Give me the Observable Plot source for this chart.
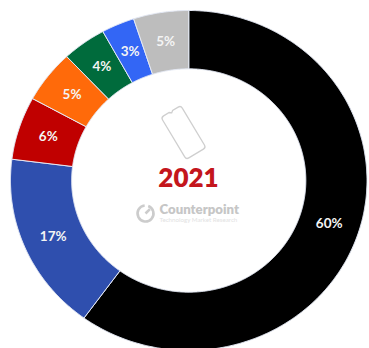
<!DOCTYPE html>
<html>
<head>
<meta charset="utf-8">
<style>
  html, body { margin: 0; padding: 0; background: #fff; }
  svg { display: block; }
</style>
<script src="https://cdn.jsdelivr.net/npm/d3@7"></script>
<script src="https://cdn.jsdelivr.net/npm/@observablehq/plot@0.6"></script>
</head>
<body>
<div id="chart"></div>
<script>
// Market share by slice, clockwise from twelve o'clock
const slices = ["a", "b", "c", "d", "e", "f", "g"];
const shares = [60, 17, 6, 5, 4, 3, 5];
const colors = ["#000000", "#2f4fae", "#c00000", "#ff6a0a", "#006b3c", "#3366f5", "#bdbdbd"];
const year = ["2021"];
const brand = ["Counterpoint"];
const tagline = ["Technology Market Research"];

const innerRatio = 0.657;
const total = d3.sum(shares);
const cumulative = d3.cumsum(shares);

const polar = (share, r) => {
  const a = (share / total) * 2 * Math.PI;
  return [r * Math.sin(a), r * Math.cos(a)];
};

// Each ring segment becomes a closed outline: outer edge forward, inner edge back
const outline = slices.flatMap((slice, i) => {
  const end = cumulative[i];
  const start = end - shares[i];
  const forward = d3.range(start, end, 0.1).concat(end);
  const pts = [
    ...forward.map((s) => polar(s, 1)),
    ...forward.slice().reverse().map((s) => polar(s, innerRatio))
  ];
  pts.push(pts[0]);
  return pts.map(([x, y]) => ({ slice, x, y }));
});

const labels = slices.map((slice, i) => {
  const [x, y] = polar(cumulative[i] - shares[i] / 2, (1 + innerRatio) / 2);
  return { x, y, text: `${shares[i]}%` };
});

// Handset outline as a custom dot symbol: rounded body with a small notch
const handset = {
  draw(ctx, size) {
    const k = Math.sqrt(size) / 50;
    const w = 11.5 * k, h = 24.5 * k, r = 3 * k, n = 2 * k;
    ctx.moveTo(-w + r, -h);
    ctx.lineTo(-n, -h);
    ctx.lineTo(0, -h + n * 0.8);
    ctx.lineTo(n, -h);
    ctx.lineTo(w - r, -h);
    ctx.arcTo(w, -h, w, -h + r, r);
    ctx.lineTo(w, h - r);
    ctx.arcTo(w, h, w - r, h, r);
    ctx.lineTo(-w + r, h);
    ctx.arcTo(-w, h, -w, h - r, r);
    ctx.lineTo(-w, -h + r);
    ctx.arcTo(-w, -h, -w + r, -h, r);
    ctx.closePath();
  }
};

// Brand mark: an open dial with a short needle
const dial = {
  draw(ctx, size) {
    const r = Math.sqrt(size) / 2;
    const gap = 0.35;
    ctx.moveTo(r * Math.sin(gap), -r * Math.cos(gap));
    ctx.arc(0, 0, r, -Math.PI / 2 + gap, -Math.PI / 2 + 2 * Math.PI - gap * 0.3);
    ctx.moveTo(0, 0);
    ctx.lineTo(r * 0.55, -r * 0.55);
  }
};

const font = "Lato, 'Open Sans', 'Liberation Sans', sans-serif";

const chart = Plot.plot({
  width: 369,
  height: 348,
  margin: 0,
  style: { background: "#fff" },
  x: { domain: [-1, 1], range: [10, 366.5], axis: null },
  y: { domain: [-1, 1], range: [350, 10], axis: null },
  color: { domain: slices, range: colors },
  marks: [
    Plot.line(outline, {
      x: "x", y: "y", z: "slice",
      fill: "slice",
      stroke: "#e4e9f5",
      strokeWidth: 1,
      curve: "linear"
    }),
    Plot.text(labels, {
      x: "x", y: "y", text: "text",
      fill: "#f4f4f4",
      fontFamily: font,
      fontWeight: 700,
      fontSize: 13.5
    }),
    Plot.dot([0], {
      frameAnchor: "top-left", dx: 183, dy: 132,
      symbol: handset, r: 28.2, rotate: -31,
      fill: "none", stroke: "#cfcfcf", strokeWidth: 1.3
    }),
    Plot.text(year, {
      frameAnchor: "top-left", dx: 188, dy: 178,
      textAnchor: "middle", lineAnchor: "middle",
      fill: "#c4161c",
      fontFamily: font, fontWeight: 800, fontSize: 26
    }),
    Plot.dot([0], {
      frameAnchor: "top-left", dx: 145, dy: 213,
      symbol: dial, r: 9,
      fill: "none", stroke: "#cccccc", strokeWidth: 2.6
    }),
    Plot.text(brand, {
      frameAnchor: "top-left", dx: 159, dy: 209.5,
      textAnchor: "start", lineAnchor: "middle",
      fill: "#c6c6c6",
      fontFamily: font, fontWeight: 800, fontSize: 13.2
    }),
    Plot.text(tagline, {
      frameAnchor: "top-left", dx: 159, dy: 220,
      textAnchor: "start", lineAnchor: "middle",
      fill: "#e2e2e2",
      fontFamily: font, fontSize: 6.2
    })
  ]
});

document.getElementById("chart").append(chart);
</script>
</body>
</html>
